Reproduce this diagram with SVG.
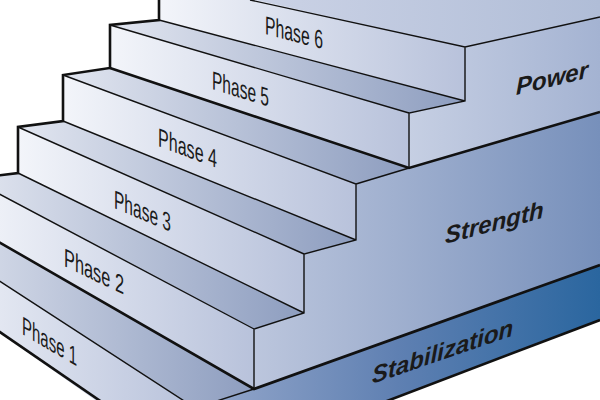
<svg xmlns="http://www.w3.org/2000/svg" width="600" height="400" viewBox="0 0 600 400">
<defs>
<linearGradient id="gRiser" x1="0" y1="0" x2="1" y2="0"><stop offset="0" stop-color="#f3f5fa"/><stop offset="1" stop-color="#b8c2db"/></linearGradient>
<linearGradient id="gTread" x1="0" y1="0" x2="1" y2="0"><stop offset="0" stop-color="#e2e6f0"/><stop offset="1" stop-color="#8d9dbf"/></linearGradient>
<linearGradient id="gPower" x1="0" y1="0" x2="1" y2="0"><stop offset="0" stop-color="#c6cfe3"/><stop offset="1" stop-color="#a4b3d2"/></linearGradient>
<linearGradient id="gTop" x1="0" y1="0" x2="1" y2="0"><stop offset="0" stop-color="#ccd3e6"/><stop offset="1" stop-color="#b0bdd7"/></linearGradient>
<linearGradient id="gStrength" x1="0" y1="0" x2="1" y2="0"><stop offset="0" stop-color="#bcc6dd"/><stop offset="1" stop-color="#7790bb"/></linearGradient>
<linearGradient id="gStab" x1="0" y1="0" x2="1" y2="0"><stop offset="0" stop-color="#97a9cc"/><stop offset="0.5" stop-color="#5f80b2"/><stop offset="1" stop-color="#2a669f"/></linearGradient>
</defs>
<style>
.riser{fill:url(#gRiser)}
.tread{fill:url(#gTread)}
.thin{fill:none;stroke:#111;stroke-width:1.4;stroke-linejoin:miter}
.thick{fill:none;stroke:#111;stroke-width:2.6;stroke-linejoin:miter}
.ph{font-family:"Liberation Sans",Arial,sans-serif;font-size:26px;fill:#1a1a1a}
.blk{font-family:"Liberation Sans",Arial,sans-serif;font-size:24px;font-weight:bold;font-style:italic;fill:#1a1a1a}
</style>
<rect width="600" height="400" fill="#ffffff"/>
<g id="faces">
<polygon id="top" fill="url(#gTop)" points="250,0 465,47 600,17 600,0"/>
<polygon class="riser" points="159,-22 465,47 465,101 159,20"/>
<polygon class="tread" points="159,20 465,101 409,113 110,25"/>
<polygon class="riser" points="110,25 409,113 409,168 110,68"/>
<polygon class="tread" points="110,68 409,168 356,184 63,75"/>
<polygon class="riser" points="63,75 356,184 356,240 63,121"/>
<polygon class="tread" points="63,121 356,240 304,254 18,127"/>
<polygon class="riser" points="18,127 304,254 304,313 18,173"/>
<polygon class="tread" points="18,173 304,313 254,329 -29,179"/>
<polygon class="riser" points="-29,179 254,329 254,389 -29,226"/>
<polygon class="tread" points="-29,226 254,389 195,408 -76,232"/>
<polygon class="riser" points="-76,232 195,408 195,470 -76,280"/>
<polygon id="power" fill="url(#gPower)" points="465,47 600,17 600,112 409,168 409,113 465,101"/>
<polygon id="strength" fill="url(#gStrength)" points="409,168 600,112 600,265 254,389 254,329 304,313 304,254 356,240 356,184"/>
<polygon id="stabilization" fill="url(#gStab)" points="195,408 254,389 600,265 600,320 195,474"/>
</g>
<g id="edges">
<path class="thin" d="M250,0 L465,47 L600,17 M465,47 V101 L409,113 V168 M159,20 L465,101 M110,25 L409,113 M63,75 L356,184 V240 L304,254 V313 L254,329 V389 M409,168 L356,184 M63,121 L356,240 M18,127 L304,254 M18,173 L304,313 M-29,179 L254,329 M254,389 L195,408 M-76,232 L195,408"/>
<path class="thick" d="M159,0 V20 L110,25 V68 L63,75 V121 L18,127 V173 L-29,179"/>
<path class="thick" d="M110,68 L409,168 L600,112"/>
<path class="thick" d="M-29,226 L254,389 L600,265"/>
<path class="thick" d="M-76,280 L195,466"/>
<path class="thick" d="M195,474 L600,320"/>
</g>
<g id="labels">
<text class="ph" transform="translate(265,34) skewY(14.6)" textLength="58" lengthAdjust="spacingAndGlyphs">Phase 6</text>
<text class="ph" transform="translate(212,89) skewY(17.2)" textLength="57" lengthAdjust="spacingAndGlyphs">Phase 5</text>
<text class="ph" transform="translate(158,146) skewY(20.5)" textLength="59" lengthAdjust="spacingAndGlyphs">Phase 4</text>
<text class="ph" transform="translate(114,208) skewY(22.8)" textLength="57" lengthAdjust="spacingAndGlyphs">Phase 3</text>
<text class="ph" transform="translate(64,266) skewY(25.5)" textLength="60" lengthAdjust="spacingAndGlyphs">Phase 2</text>
<text class="ph" transform="translate(22,334) skewY(30.5)" textLength="55" lengthAdjust="spacingAndGlyphs">Phase 1</text>
<text class="blk" transform="translate(516,95) skewY(-13.5)">Power</text>
<text class="blk" transform="translate(445,244) skewY(-15)">Strength</text>
<text class="blk" transform="translate(372,384) skewY(-19)">Stabilization</text>
</g>
</svg>
